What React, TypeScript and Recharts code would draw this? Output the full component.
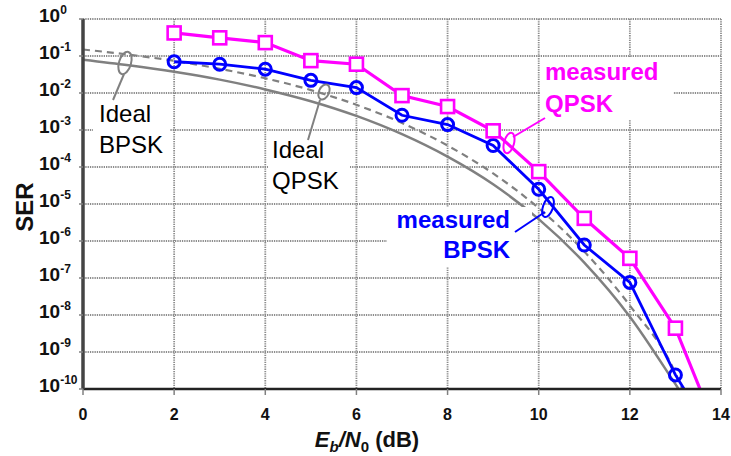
import { CartesianGrid, Line, LineChart, ReferenceDot, XAxis, YAxis } from "recharts"

// Eb/N0 in dB, SER
const ebn0IdealBpsk = [0, 1, 2, 3, 4, 5, 6, 7, 8, 9, 10, 11, 12, 13, 13.07]
const serIdealBpsk = [7.9e-2, 5.6e-2, 3.75e-2, 2.3e-2, 1.25e-2, 6.0e-3, 2.4e-3, 7.7e-4, 1.9e-4, 3.4e-5, 3.9e-6, 2.6e-7, 9.0e-9, 1.35e-10, 1e-10]

const ebn0IdealQpsk = [0, 1, 2, 3, 4, 5, 6, 7, 8, 9, 10, 11, 12, 13, 13.15]
const serIdealQpsk = [0.15, 0.109, 7.4e-2, 4.5e-2, 2.5e-2, 1.2e-2, 4.8e-3, 1.55e-3, 3.8e-4, 6.7e-5, 7.7e-6, 5.2e-7, 1.8e-8, 2.7e-10, 1e-10]

const ebn0Measured = [2, 3, 4, 5, 6, 7, 8, 9, 10, 11, 12, 13]
const serMeasBpsk = [0.07, 0.06, 0.044, 0.022, 0.014, 2.5e-3, 1.4e-3, 3.8e-4, 2.5e-5, 7.8e-7, 7.6e-8, 2.4e-10]
const serMeasQpsk = [0.42, 0.31, 0.23, 0.075, 0.06, 8.5e-3, 4.3e-3, 9.5e-4, 7.5e-5, 4.1e-6, 3.4e-7, 4.4e-9]
// where the measured curves leave the bottom of the plot
const tailBpsk = 13.19
const tailQpsk = 13.54
const serFloor = 1e-10

const xTicks = [0, 2, 4, 6, 8, 10, 12, 14]
const yTicks = [1, 1e-1, 1e-2, 1e-3, 1e-4, 1e-5, 1e-6, 1e-7, 1e-8, 1e-9, 1e-10]

// callout anchors (ellipse centres) in data units
const calloutX = [0.922, 5.288, 9.348, 10.204]
const calloutY = [6.47e-2, 1.064e-2, 4.45e-4, 8.3e-6]

const FONT = "'Liberation Sans', Arial, sans-serif"
const GRAY = "#808080"
const BLUE = "#0000ff"
const MAGENTA = "#ff00ff"

const rows = (xs: number[], ys: number[]) => xs.map((x, i) => ({ x, y: ys[i], mark: true }))

const idealBpskRows = rows(ebn0IdealBpsk, serIdealBpsk)
const idealQpskRows = rows(ebn0IdealQpsk, serIdealQpsk)
const measBpskRows = [...rows(ebn0Measured, serMeasBpsk), { x: tailBpsk, y: serFloor, mark: false }]
const measQpskRows = [...rows(ebn0Measured, serMeasQpsk), { x: tailQpsk, y: serFloor, mark: false }]

function YTick(props: any) {
  const { x, y, payload } = props
  const exp = Math.round(Math.log10(payload.value))
  return (
    <text x={x - 38} y={y + 3} textAnchor="start" fontFamily={FONT} fontWeight="bold" fontSize={19} fill="#111">
      <tspan>10</tspan>
      <tspan dy={-8} fontSize={12}>{exp}</tspan>
    </text>
  )
}

function XTick(props: any) {
  const { x, y, payload } = props
  return (
    <text x={x} y={y + 23} textAnchor="middle" fontFamily={FONT} fontWeight="bold" fontSize={16} fill="#111">
      {payload.value}
    </text>
  )
}

function CircleDot(props: any) {
  const { cx, cy, payload, index } = props
  if (!payload.mark) return <g key={index} />
  return <circle key={index} cx={cx} cy={cy} r={6} fill="none" stroke={BLUE} strokeWidth={3} />
}

function SquareDot(props: any) {
  const { cx, cy, payload, index } = props
  if (!payload.mark) return <g key={index} />
  return <rect key={index} x={cx - 6.5} y={cy - 6.5} width={13} height={13} fill="#fff" stroke={MAGENTA} strokeWidth={2.6} />
}

type CalloutSpec = {
  rx: number
  ry: number
  rot: number
  line: [number, number, number, number]
  box: [number, number, number, number]
  text: string[]
  tx: number
  ty: number[]
  color: string
  bold: boolean
  anchor: "start" | "end"
}

const callouts: CalloutSpec[] = [
  { rx: 6, ry: 11.5, rot: 17, line: [-1, 11, -12, 37], box: [-32, 34, 77, 68], text: ["Ideal", "BPSK"], tx: -26, ty: [59, 90], color: GRAY, bold: false, anchor: "start" },
  { rx: 5, ry: 8, rot: 25, line: [-4, 8, -16, 48], box: [-56, 43, 82, 65], text: ["Ideal", "QPSK"], tx: -52, ty: [66, 97], color: GRAY, bold: false, anchor: "start" },
  { rx: 5, ry: 10.5, rot: 15, line: [4, -6, 36, -25], box: [31, -85, 133, 62], text: ["measured", "QPSK"], tx: 36, ty: [-63, -31], color: MAGENTA, bold: true, anchor: "start" },
  { rx: 5, ry: 10.5, rot: 20, line: [-3, 5, -33, 25], box: [-161, 0, 145, 60], text: ["measured", "BPSK"], tx: -38, ty: [21, 51], color: BLUE, bold: true, anchor: "end" },
]

function Callout({ cx, cy, spec }: { cx: number; cy: number; spec: CalloutSpec }) {
  const [bx, by, bw, bh] = spec.box
  const [x1, y1, x2, y2] = spec.line
  return (
    <g>
      <rect x={cx + bx} y={cy + by} width={bw} height={bh} fill="#fff" />
      <ellipse cx={cx} cy={cy} rx={spec.rx} ry={spec.ry} fill="none" stroke={spec.color} strokeWidth={2} transform={`rotate(${spec.rot} ${cx} ${cy})`} />
      <line x1={cx + x1} y1={cy + y1} x2={cx + x2} y2={cy + y2} stroke={spec.color} strokeWidth={2} />
      {spec.text.map((t, i) => (
        <text
          key={t}
          x={cx + spec.tx}
          y={cy + spec.ty[i]}
          textAnchor={spec.anchor}
          fontFamily={FONT}
          fontSize={24}
          fontWeight={spec.bold ? "bold" : "normal"}
          fill={spec.bold ? spec.color : "#000"}
        >
          {t}
        </text>
      ))}
    </g>
  )
}

function XLabel() {
  return (
    <text x={367} y={447} textAnchor="middle" fontFamily={FONT} fontWeight="bold" fontSize={22} fill="#111">
      <tspan fontStyle="italic">E</tspan>
      <tspan fontStyle="italic" fontSize={15} dy={5}>b</tspan>
      <tspan fontStyle="italic" dy={-5}>/N</tspan>
      <tspan fontSize={15} dy={5}>0</tspan>
      <tspan dy={-5}> (dB)</tspan>
    </text>
  )
}

function YLabel() {
  return (
    <text x={33} y={207} transform="rotate(-90 33 207)" textAnchor="middle" fontFamily={FONT} fontWeight="bold" fontSize={24} fill="#111">
      SER
    </text>
  )
}

export default function App() {
  return (
    <div style={{ width: 731, height: 456, background: "#fff" }}>
      <style>{"body{margin:0}"}</style>
      <LineChart width={731} height={456} margin={{ top: 19, right: 10, bottom: 7, left: 8 }}>
        <CartesianGrid stroke="#8c8c8c" strokeWidth={1.8} strokeDasharray="1.3 1" />
        <XAxis
          dataKey="x"
          type="number"
          domain={[0, 14]}
          ticks={xTicks}
          interval={0}
          height={60}
          tick={<XTick />}
          tickSize={6}
          tickLine={{ stroke: GRAY, strokeWidth: 1.5 }}
          axisLine={{ stroke: "#222", strokeWidth: 2.5 }}
          label={<XLabel />}
        />
        <XAxis xAxisId="top" orientation="top" type="number" domain={[0, 14]} height={0} tick={false} tickLine={false} axisLine={{ stroke: "#000", strokeWidth: 3 }} />
        <YAxis
          type="number"
          scale="log"
          domain={[1e-10, 1]}
          allowDataOverflow
          ticks={yTicks}
          interval={0}
          width={75}
          tick={<YTick />}
          tickSize={4}
          tickLine={{ stroke: GRAY, strokeWidth: 1.5 }}
          axisLine={{ stroke: "#444", strokeWidth: 3.5 }}
          label={<YLabel />}
        />
        <YAxis yAxisId="right" orientation="right" type="number" domain={[0, 1]} width={0} tick={false} tickLine={false} axisLine={{ stroke: "#000", strokeWidth: 3 }} />
        <Line data={idealBpskRows} dataKey="y" type="monotone" stroke={GRAY} strokeWidth={2.5} dot={false} isAnimationActive={false} />
        <Line data={idealQpskRows} dataKey="y" type="monotone" stroke={GRAY} strokeWidth={2.2} strokeDasharray="7 5" dot={false} isAnimationActive={false} />
        <Line data={measBpskRows} dataKey="y" type="linear" stroke={BLUE} strokeWidth={2.8} dot={<CircleDot />} isAnimationActive={false} />
        <Line data={measQpskRows} dataKey="y" type="linear" stroke={MAGENTA} strokeWidth={3.2} dot={<SquareDot />} isAnimationActive={false} />
        {callouts.map((spec, i) => (
          <ReferenceDot
            key={i}
            x={calloutX[i]}
            y={calloutY[i]}
            r={0}
            shape={(p: any) => <Callout cx={p.cx} cy={p.cy} spec={spec} />}
          />
        ))}
      </LineChart>
    </div>
  )
}
